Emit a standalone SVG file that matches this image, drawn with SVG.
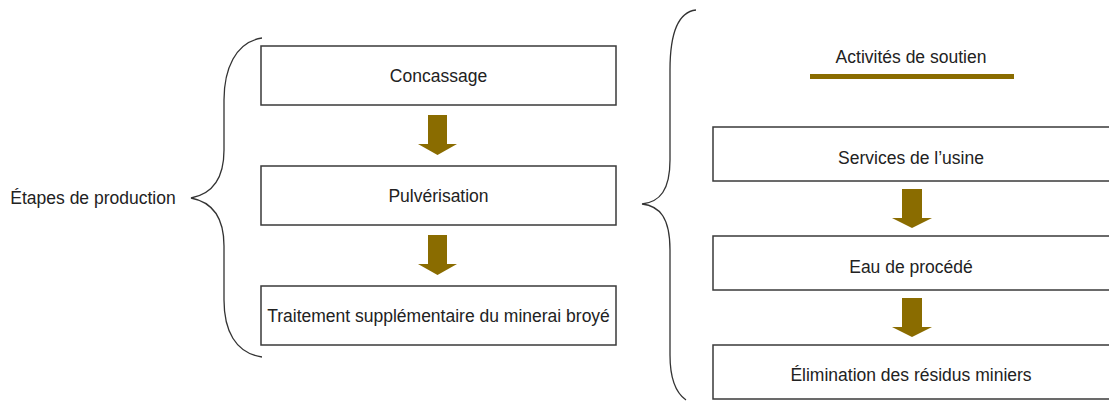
<svg xmlns="http://www.w3.org/2000/svg" width="1109" height="404" viewBox="0 0 1109 404">
<style>
.box{fill:#fff;stroke:#3a3a3a;stroke-width:1.5}
.t{font-family:"Liberation Sans",Arial,sans-serif;font-size:17.5px;fill:#222;text-anchor:middle}
.brace{fill:none;stroke:#333;stroke-width:1.3}
.arr{fill:#8a6c00}
</style>
<rect width="1109" height="404" fill="#fff"/>
<g id="connectors">
<path class="brace" d="M262,38 C235,42 224,70 224,100 L224,150 C224,180 212,194 191,198 C212,202 224,216 224,246 L224,300 C224,330 235,353 262,357"/>
<path class="brace" d="M696,10 C678,12 670,35 670,70 L670,160 C670,190 660,202 642,204 C660,206 670,218 670,250 L670,355 C670,380 676,393 686,400"/>
<polygon class="arr" points="428,115 447,115 447,144 457,144 437.5,155 418,144 428,144"/>
<polygon class="arr" points="428,235 447,235 447,264 457,264 437.5,275 418,264 428,264"/>
<polygon class="arr" points="902,189 922,189 922,218 932,218 912,228 892,218 902,218"/>
<polygon class="arr" points="902,298 922,298 922,327 932,327 912,337 892,327 902,327"/>
<rect x="810" y="74" width="204" height="5" fill="#8a6c00"/>
</g>
<g id="label-etapes"><text class="t" x="93" y="204">Étapes de production</text></g>
<g id="label-soutien"><text class="t" x="911" y="63">Activités de soutien</text></g>
<g id="n1"><rect class="box" x="261" y="46" width="355" height="59"/><text class="t" x="438.5" y="82">Concassage</text></g>
<g id="n2"><rect class="box" x="261" y="166" width="355" height="59"/><text class="t" x="438.5" y="202">Pulvérisation</text></g>
<g id="n3"><rect class="box" x="261" y="286" width="355" height="59"/><text class="t" x="438.5" y="322">Traitement supplémentaire du minerai broyé</text></g>
<g id="n4"><rect class="box" x="713" y="127" width="400" height="54"/><text class="t" x="911" y="164">Services de l’usine</text></g>
<g id="n5"><rect class="box" x="713" y="236" width="400" height="54"/><text class="t" x="911" y="273">Eau de procédé</text></g>
<g id="n6"><rect class="box" x="713" y="345" width="400" height="54"/><text class="t" x="911" y="381">Élimination des résidus miniers</text></g>
</svg>
